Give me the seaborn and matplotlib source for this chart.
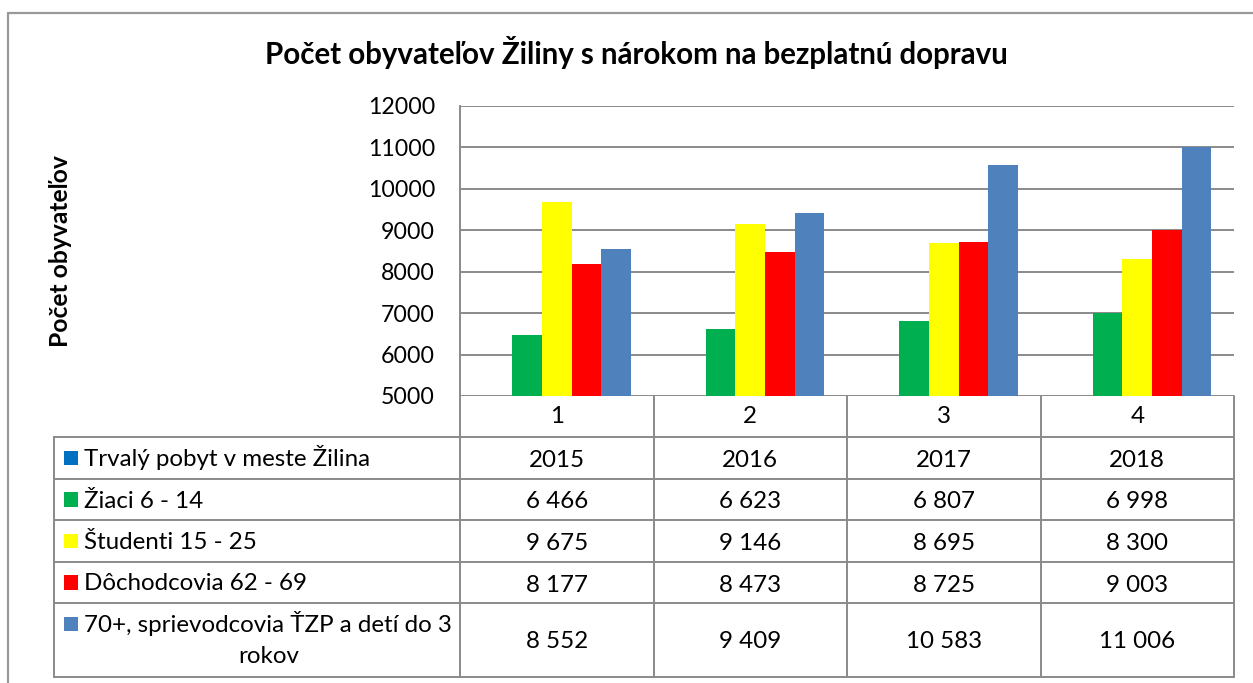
import matplotlib
matplotlib.use("Agg")
import matplotlib.pyplot as plt
import seaborn as sns
import pandas as pd
from matplotlib.patches import Rectangle
from matplotlib.lines import Line2D

# ---------------- data ----------------
title = "Počet obyvateľov Žiliny s nárokom na bezplatnú dopravu"
ylabel = "Počet obyvateľov"
categories = ["1", "2", "3", "4"]
series_names = [
    "Trvalý pobyt v meste Žilina",
    "Žiaci 6 - 14",
    "Študenti 15 - 25",
    "Dôchodcovia 62 - 69",
    "70+, sprievodcovia ŤZP a detí do 3\nrokov",
]
trvaly_pobyt = [2015, 2016, 2017, 2018]
ziaci = [6466, 6623, 6807, 6998]
studenti = [9675, 9146, 8695, 8300]
dochodcovia = [8177, 8473, 8725, 9003]
seniori = [8552, 9409, 10583, 11006]
series_values = [trvaly_pobyt, ziaci, studenti, dochodcovia, seniori]
colors = ["#0070C0", "#00B050", "#FFFF00", "#FF0000", "#4F81BD"]
yticks = [5000, 6000, 7000, 8000, 9000, 10000, 11000, 12000]

rows = []
for name, vals in zip(series_names, series_values):
    for c, v in zip(categories, vals):
        rows.append({"kat": c, "séria": name, "hodnota": v})
df = pd.DataFrame(rows)

# ---------------- figure ----------------
sns.set_theme(style="white")
FONT = ["Lato", "DejaVu Sans"]
plt.rcParams["font.family"] = FONT

W, H = 1253, 683
fig = plt.figure(figsize=(W / 100, H / 100), dpi=100)
renderer = fig.canvas.get_renderer()

GRAY = "#8a8a8a"

def px(x, y):
    return x / W, 1 - y / H

def fit_size(text, target_px, weight="normal", base=16):
    t = fig.text(0, 0, text, fontsize=base, fontweight=weight)
    w = t.get_window_extent(renderer).width
    t.remove()
    return base * target_px / w

FS = fit_size("Trvalý pobyt v meste Žilina", 288)
FS_TICK = fit_size("12000", 67)
FS_TITLE = fit_size(title, 748, "bold")
FS_YL = fit_size(ylabel, 192, "bold")

# plot area
L, R, T, B = 460, 1234, 106, 396
ax = fig.add_axes([L / W, 1 - B / H, (R - L) / W, (B - T) / H])
sns.barplot(data=df, x="kat", y="hodnota", hue="séria", hue_order=series_names,
            order=categories, palette=colors, saturation=1, width=0.767, gap=0,
            legend=False, ax=ax, errorbar=None, linewidth=0)
ax.set_ylim(5000, 12000)
ax.set_xlim(-0.5, 3.5)
ax.set_yticks(yticks)
ax.set_yticklabels([str(v) for v in yticks], fontsize=FS_TICK, color="black")
ax.tick_params(axis="y", length=0, pad=18)
ax.set_xticks(range(len(categories)))
ax.set_xticklabels(categories, fontsize=FS, color="black")
ax.tick_params(axis="x", length=0, pad=7)
ax.yaxis.grid(True, color=GRAY, linewidth=1.4)
ax.set_axisbelow(True)
ax.set_xlabel("")
ax.set_ylabel("")
for s in ["top", "right", "bottom"]:
    ax.spines[s].set_visible(False)
ax.spines["left"].set_color(GRAY)
ax.spines["left"].set_linewidth(1.4)

# title and y label
fig.text(*px(636, 64), title, fontsize=FS_TITLE, fontweight="bold",
         ha="center", va="baseline", color="black")
fig.text(*px(60, 251), ylabel, fontsize=FS_YL, fontweight="bold",
         ha="center", va="center", rotation=90, color="black")

# outer border
fig.add_artist(Line2D([8 / W, 8 / W], [0, 1 - 13 / H], color="#999999", lw=1.6))
fig.add_artist(Line2D([8 / W, 1], [1 - 13 / H, 1 - 13 / H], color="#999999", lw=1.6))

# data table
TL = 54
col_edges = [L + i * (R - L) / 4 for i in range(5)]
row_edges = [437, 479, 520, 562, 603, 677]

def hline(x0, x1, y):
    fig.add_artist(Line2D([x0 / W, x1 / W], [1 - y / H, 1 - y / H], color=GRAY, lw=1.4))

def vline(x, y0, y1):
    fig.add_artist(Line2D([x / W, x / W], [1 - y0 / H, 1 - y1 / H], color=GRAY, lw=1.4))

for y in row_edges:
    hline(TL, R, y)
vline(TL, row_edges[0], row_edges[-1])
for x in col_edges:
    vline(x, B, row_edges[-1])

row_baselines = [466, 507.5, 549, 590.5]
for i, (name, vals, col) in enumerate(zip(series_names, series_values, colors)):
    if i < 4:
        bl = row_baselines[i]
        sq_c = bl - 8
        fig.text(*px(84, bl), name, fontsize=FS, ha="left", va="baseline", color="black")
        vbl = bl + 1
    else:
        l1, l2 = name.split("\n")
        fig.text(*px(84, 631.5), l1, fontsize=FS, ha="left", va="baseline", color="black")
        fig.text(*px(269, 663), l2, fontsize=FS, ha="center", va="baseline", color="black")
        sq_c = 624
        vbl = 648.5
    fig.add_artist(Rectangle(px(63.5, sq_c + 7.2), 14.4 / W, 14.4 / H, facecolor=col,
                             edgecolor="none", transform=fig.transFigure))
    for j, v in enumerate(vals):
        if i == 0:
            s = str(v)
        else:
            s = f"{v:,}".replace(",", " ")
        cx = (col_edges[j] + col_edges[j + 1]) / 2
        fig.text(*px(cx, vbl), s, fontsize=FS, ha="center", va="baseline", color="black")

fig.savefig("out.png", dpi=100)
